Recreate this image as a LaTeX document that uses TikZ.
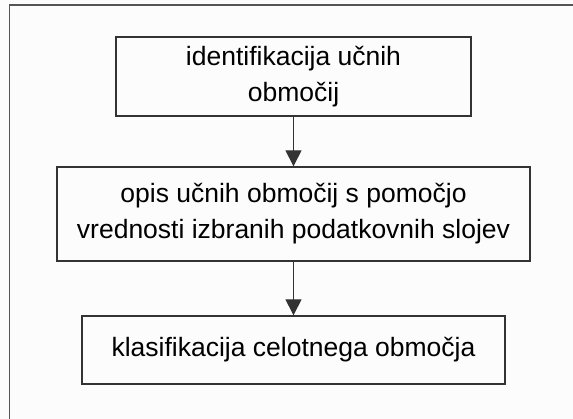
\documentclass[tikz,border=0pt]{standalone}
\usepackage{fontspec}
\setmainfont{Liberation Sans}
\usetikzlibrary{arrows.meta}
\definecolor{pagebg}{HTML}{FCFCFC}
\definecolor{frameline}{HTML}{555555}
\definecolor{boxline}{HTML}{333333}
\begin{document}
\begin{tikzpicture}[x=1pt,y=-1pt,
  stepbox/.style={draw=boxline,line width=1.4pt,align=center,inner sep=0pt,
    font=\fontsize{26.5}{36}\selectfont,text=black},
  flow/.style={draw=boxline,line width=1.4pt,-{Triangle[width=16pt,length=16pt]}}]
  \useasboundingbox (0,0) rectangle (573,419);
  \clip (0,0) rectangle (573,419);
  \fill[pagebg] (0,0) rectangle (573,419);
  % outer frame, running past the right and lower edges
  \draw[frameline,line width=1.3pt] (9.5,5) rectangle (600,440);
  % process steps
  \node[stepbox,minimum width=355pt,minimum height=79pt] (s1) at (293.5,76.5)
    {identifikacija učnih\\območij};
  \node[stepbox,minimum width=473pt,minimum height=94pt] (s2) at (293.5,214)
    {opis učnih območij s pomočjo\\vrednosti izbranih podatkovnih slojev};
  \node[stepbox,minimum width=423pt,minimum height=68pt] (s3) at (293.5,350)
    {klasifikacija celotnega območja};
  % connectors
  \draw[flow] (s1) -- (s2);
  \draw[flow] (s2) -- (s3);
\end{tikzpicture}
\end{document}
